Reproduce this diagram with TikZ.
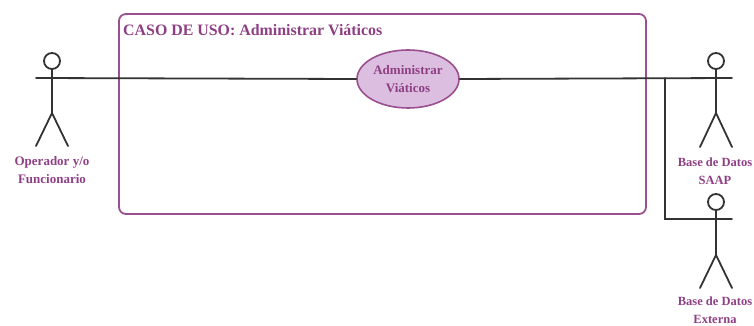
\documentclass[tikz,border=0pt]{standalone}
\usepackage{fontspec}
\usetikzlibrary{shapes.geometric}
\setmainfont{Liberation Serif}
\definecolor{frm}{HTML}{9A4F8E}
\definecolor{fillc}{HTML}{DCBFE0}
\definecolor{txt}{HTML}{8E3F84}
\definecolor{ln}{HTML}{333333}
\tikzset{
 ln/.style={draw=ln,line width=1.8pt,line cap=round},
 lbl/.style={text=txt,font=\bfseries\fontsize{13}{18}\selectfont,align=center,inner sep=0pt},
 lblr/.style={text=txt,font=\bfseries\fontsize{12.5}{17.5}\selectfont,align=center,inner sep=0pt},
}
\begin{document}
\begin{tikzpicture}[x=1pt,y=-1pt]
\useasboundingbox (0,0) rectangle (754,326);
\node[draw=frm,line width=1.8pt,rounded corners=7pt,minimum width=527pt,minimum height=200pt,inner sep=0pt] (frame) at (382.5,114) {};
\node[anchor=west,text=txt,font=\bfseries\fontsize{15.9}{18}\selectfont,inner sep=0pt] (title) at (123,30) {CASO DE USO: Administrar Viáticos};
\node[ellipse,draw=frm,line width=1.6pt,fill=fillc,minimum width=102pt,minimum height=58pt,inner sep=0pt,lbl] (uc) at (408,79) {Administrar\\Viáticos};
% actor 1
\node[circle,draw=ln,line width=1.8pt,minimum size=16pt,inner sep=0pt] (h1) at (52,61) {};
\coordinate (hip1) at (52,113);
\coordinate (la1) at (36,78);
\coordinate (lf1) at (36,146); \coordinate (rf1) at (68,146);
\draw[ln] (h1.south) -- (hip1) (lf1) -- (hip1) -- (rf1);
\draw[ln] (la1) -- (uc.west);
\node[lbl] (l1) at (52,170) {Operador y/o\\Funcionario};
% actor 2
\node[circle,draw=ln,line width=1.8pt,minimum size=16pt,inner sep=0pt] (h2) at (716,61) {};
\coordinate (hip2) at (716,113); \coordinate (ra2) at (732,78);
\coordinate (lf2) at (700,147); \coordinate (rf2) at (732,147);
\draw[ln] (h2.south) -- (hip2) (lf2) -- (hip2) -- (rf2);
\draw[ln] (uc.east) -- (ra2);
\node[lblr,anchor=center] (l2) at (715,171) {Base de Datos\\SAAP};
% actor 3
\node[circle,draw=ln,line width=1.8pt,minimum size=16pt,inner sep=0pt] (h3) at (716,202) {};
\coordinate (hip3) at (716,255); \coordinate (ra3) at (732,219);
\coordinate (lf3) at (700,288); \coordinate (rf3) at (732,288);
\draw[ln] (h3.south) -- (hip3) (lf3) -- (hip3) -- (rf3);
\coordinate (j) at (665,78);
\draw[ln] (j) |- (ra3);
\node[lblr,anchor=center] (l3) at (715,310) {Base de Datos\\Externa};
\end{tikzpicture}
\end{document}
